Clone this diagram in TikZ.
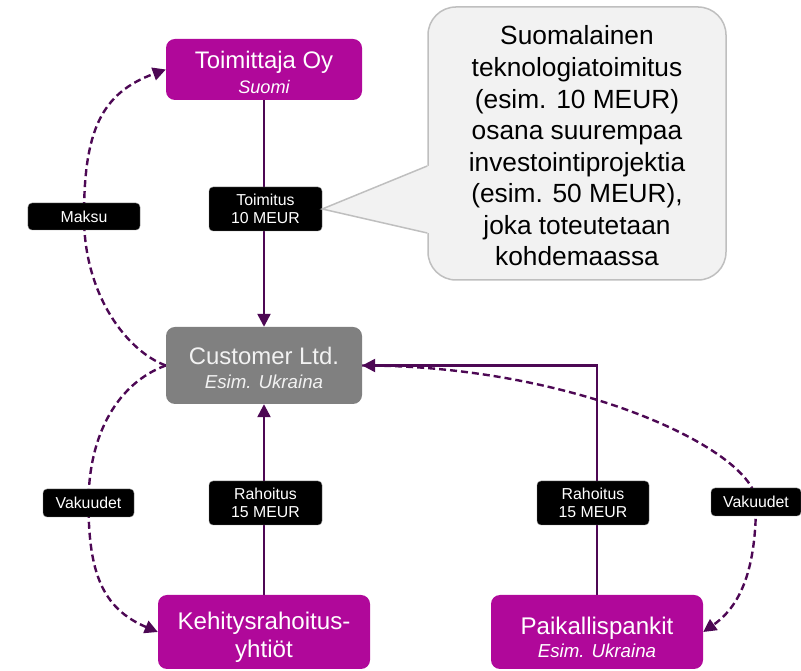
\documentclass[tikz,border=0pt]{standalone}
\usepackage{fontspec}
\setmainfont{Liberation Sans}
\usetikzlibrary{arrows.meta,calc}
\definecolor{mag}{RGB}{176,8,154}
\definecolor{lin}{RGB}{77,8,84}
\definecolor{cgray}{RGB}{128,128,128}
\definecolor{ctext}{RGB}{242,242,242}
\definecolor{nfill}{RGB}{242,242,242}
\definecolor{nline}{RGB}{191,191,191}
\pgfdeclarelayer{bg}
\pgfsetlayers{bg,main}
\begin{document}
\begin{tikzpicture}[x=1bp,y=1bp,
  box/.style={rounded corners=9bp, inner sep=0pt},
  btext/.style={inner sep=0pt, align=center, text=white},
  lbl/.style={fill=black, draw=gray, line width=0.4pt, rounded corners=4bp, text=white,
    inner sep=0pt, align=center, font=\fontsize{15.9}{18}\selectfont},
  flow/.style={draw=lin, line width=2.4bp, -{Triangle[length=13bp,width=13bp]}},
  dflow/.style={flow, dash pattern=on 7bp off 4bp},
]
\useasboundingbox (0,0) rectangle (801,671);

% main boxes
\node[box, fill=mag, minimum width=196bp, minimum height=61bp] (toim) at (264,601.5) {};
\node[btext, font=\fontsize{24}{25}\selectfont] (toimtxt) at ($(toim.center)+(0,-3)$)
  {Toimittaja Oy\\{\fontsize{18.2}{25}\selectfont\itshape Suomi}};
\node[box, fill=cgray, minimum width=196bp, minimum height=77bp] (cust) at (264,305.5) {};
\node[btext, text=ctext, font=\fontsize{24}{24}\selectfont] (custtxt) at ($(cust.center)+(0,-2.5)$)
  {Customer Ltd.\\{\fontsize{18.8}{24}\selectfont\itshape Esim. Ukraina}};
\node[box, fill=mag, minimum width=212bp, minimum height=74bp] (kehit) at (264,39) {};
\node[btext, font=\fontsize{24.2}{28}\selectfont] (kehittxt) at ($(kehit.center)+(0,-5.5)$)
  {Kehitysrahoitus-\\yhtiöt};
\node[box, fill=mag, minimum width=212bp, minimum height=74bp] (paik) at (597,39) {};
\node[btext, font=\fontsize{24.2}{23}\selectfont] (paiktxt) at ($(paik.center)+(0,-5)$)
  {Paikallispankit\\{\fontsize{18.8}{23}\selectfont\itshape Esim. Ukraina}};

% labels
\node[lbl, minimum width=113bp, minimum height=44bp] (toimitus) at (265.5,462) {Toimitus\\10 MEUR};
\node[lbl, minimum width=112bp, minimum height=27bp] (maksu) at (84,454.5) {Maksu};
\node[lbl, minimum width=113bp, minimum height=44bp] (rah1) at (265.5,168) {Rahoitus\\15 MEUR};
\node[lbl, minimum width=91bp, minimum height=28bp] (vak1) at (88.5,168) {Vakuudet};
\node[lbl, minimum width=112bp, minimum height=44bp] (rah2) at (593,168) {Rahoitus\\15 MEUR};
\node[lbl, minimum width=90bp, minimum height=28bp] (vak2) at (756,169) {Vakuudet};

% callout
\node[draw=nline, fill=nfill, line width=1.5bp, rounded corners=28bp,
  minimum width=298bp, minimum height=273bp, inner sep=0pt] (note) at (577,527.5) {};
\node[inner sep=0pt, align=center, font=\fontsize{26.4}{31.7}\selectfont] (notetxt)
  at ($(note.center)+(0,-2.5)$)
  {Suomalainen\\teknologiatoimitus\\(esim. 10 MEUR)\\osana suurempaa\\investointiprojektia\\(esim. 50 MEUR),\\joka toteutetaan\\kohdemaassa};
\fill[nfill] ($(note.west)+(0,-22.5)$) -- (toimitus.east) -- ($(note.west)+(0,-89.5)$)
  -- ($(note.west)+(3,-89.5)$) -- ($(note.west)+(3,-22.5)$) -- cycle;
\draw[nline, line width=1.5bp, line join=miter] ($(note.west)+(0,-22.5)$) -- (toimitus.east) -- ($(note.west)+(0,-89.5)$);

% connectors
\begin{pgfonlayer}{bg}
\draw[flow] (toim.south) -- (cust.north);
\draw[flow] (kehit.north) -- (cust.south);
\draw[flow] (paik.north) |- (cust.east);
\draw[dflow] (cust.west) to[out=160,in=-90,out distance=40bp,in distance=80bp] (maksu.center)
  to[out=90,in=200,out distance=85bp,in distance=69bp] (toim.west);
\draw[dflow] (cust.west) to[out=200,in=90,out distance=50bp,in distance=70bp] (vak1.center)
  to[out=-90,in=157,out distance=70bp,in distance=60bp] (kehit.west);
\draw[dflow] (cust.east) to[out=0,in=90,out distance=217bp,in distance=50bp] (vak2.center)
  to[out=-90,in=35,out distance=60bp,in distance=50bp] (paik.east);
\end{pgfonlayer}
\end{tikzpicture}
\end{document}
